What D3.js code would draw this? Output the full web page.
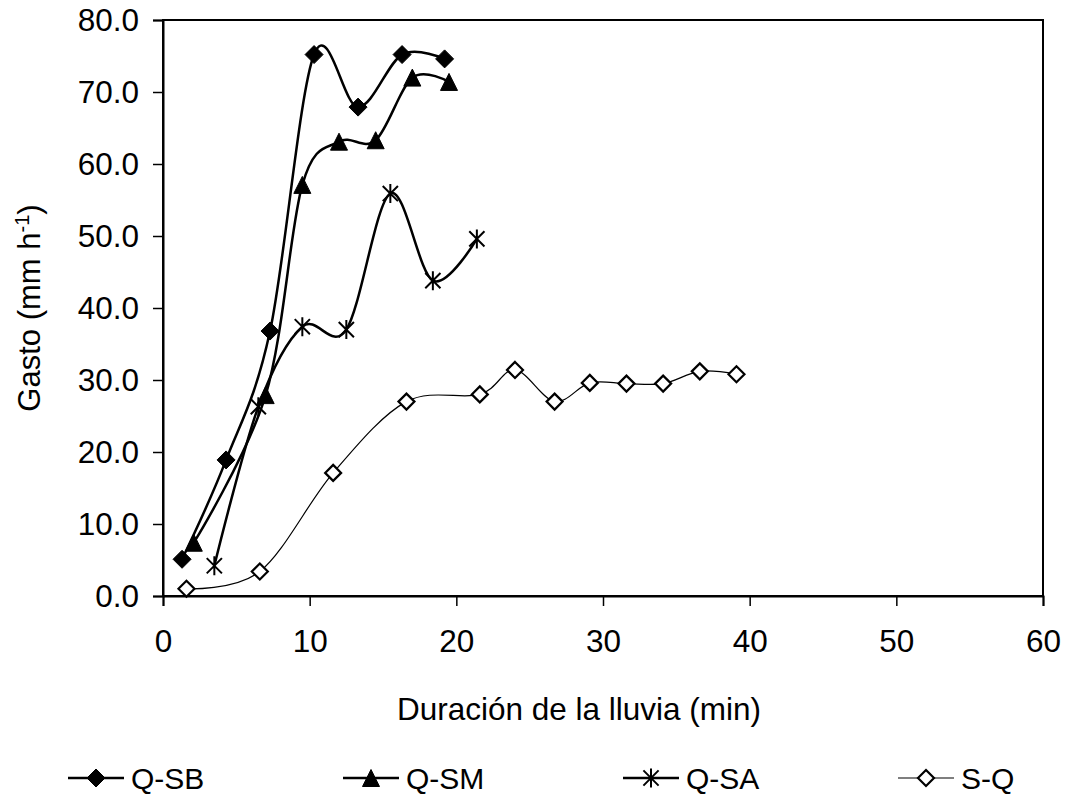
<!DOCTYPE html>
<html>
<head>
<meta charset="utf-8">
<script src="https://cdn.jsdelivr.net/npm/d3@7"></script>
<style>
  body { margin: 0; background: #fff; }
  text { font-family: "Liberation Sans", Arial, sans-serif; fill: #000; }
</style>
</head>
<body>
<div id="chart"></div>
<script>
// series
const sbX = [1.3, 4.3, 7.3, 10.3, 13.3, 16.3, 19.2];
const sbY = [5.1, 18.9, 36.8, 75.2, 67.9, 75.2, 74.6];
const smX = [2.1, 7.0, 9.5, 12.0, 14.5, 17.0, 19.5];
const smY = [7.4, 27.9, 57.1, 63.1, 63.3, 72.0, 71.4];
const saX = [3.5, 6.5, 9.5, 12.5, 15.5, 18.4, 21.4];
const saY = [4.2, 26.3, 37.4, 37.0, 55.9, 43.8, 49.6];
const sqX = [1.6, 6.6, 11.6, 16.6, 21.6, 24.0, 26.7, 29.1, 31.6, 34.1, 36.6, 39.1];
const sqY = [1.0, 3.4, 17.1, 27.0, 28.0, 31.4, 27.0, 29.6, 29.5, 29.5, 31.2, 30.8];

const seriesNames = ["Q-SB", "Q-SM", "Q-SA", "S-Q"];
const xTicks = [0, 10, 20, 30, 40, 50, 60];
const yTicks = [0, 10, 20, 30, 40, 50, 60, 70, 80];

const W = 1066, H = 795;
const margin = {top: 20, right: 23, bottom: 199, left: 163};
const width = W - margin.left - margin.right;
const height = H - margin.top - margin.bottom;

const svg = d3.select("#chart").append("svg")
    .attr("width", W)
    .attr("height", H);

const g = svg.append("g")
    .attr("transform", "translate(" + margin.left + "," + margin.top + ")");

const x = d3.scaleLinear().domain([0, 60]).range([0, width]);
const y = d3.scaleLinear().domain([0, 80]).range([height, 0]);

// plot frame
g.append("rect")
    .attr("x", 0).attr("y", 0)
    .attr("width", width).attr("height", height)
    .attr("fill", "none")
    .attr("stroke", "#000")
    .attr("stroke-width", 2);

// axes
const xAxis = g.append("g")
    .attr("transform", "translate(0," + height + ")")
    .call(d3.axisBottom(x).tickValues(xTicks).tickSize(10).tickPadding(24));
const yAxis = g.append("g")
    .call(d3.axisLeft(y).tickValues(yTicks).tickFormat(d3.format(".1f")).tickSize(10).tickPadding(14));

[xAxis, yAxis].forEach(ax => {
    ax.select(".domain").attr("stroke-width", 2);
    ax.selectAll(".tick line").attr("stroke-width", 1.5);
    ax.selectAll("text")
        .style("font-family", "'Liberation Sans', Arial, sans-serif")
        .style("font-size", "31.5px")
        .attr("fill", "#000");
});

// axis titles
svg.append("text")
    .attr("x", 579)
    .attr("y", 720)
    .attr("text-anchor", "middle")
    .style("font-size", "31.5px")
    .text("Duración de la lluvia (min)");

const yt = svg.append("text")
    .attr("transform", "translate(40," + (margin.top + height / 2) + ") rotate(-90)")
    .attr("text-anchor", "middle")
    .style("font-size", "31px");
yt.append("tspan").text("Gasto (mm h");
yt.append("tspan").attr("dy", -11).style("font-size", "20px").text("-1");
yt.append("tspan").attr("dy", 11).text(")");

// marker shapes
function diamond(s) { return "M0," + (-s) + "L" + s + ",0L0," + s + "L" + (-s) + ",0Z"; }
function triangle(s) { return "M0," + (-s) + "L" + s + "," + s + "L" + (-s) + "," + s + "Z"; }
function star(s) {
    const d = s * 0.8;
    return "M0," + (-s) + "L0," + s +
        "M" + (-d) + "," + (-d) + "L" + d + "," + d +
        "M" + (-d) + "," + d + "L" + d + "," + (-d);
}

const series = [
    {name: seriesNames[0], xs: sbX, ys: sbY, lw: 2.5, shape: diamond(9), fill: "#000", sw: 1},
    {name: seriesNames[1], xs: smX, ys: smY, lw: 2.5, shape: triangle(8.5), fill: "#000", sw: 1},
    {name: seriesNames[2], xs: saX, ys: saY, lw: 2.5, shape: star(9.5), fill: "none", sw: 2},
    {name: seriesNames[3], xs: sqX, ys: sqY, lw: 1.2, shape: diamond(8), fill: "#fff", sw: 2.2}
];

const line = d3.line()
    .x(d => x(d[0]))
    .y(d => y(d[1]))
    .curve(d3.curveCardinal.tension(0));

series.forEach(s => {
    const pts = s.xs.map((v, i) => [v, s.ys[i]]);
    g.append("path")
        .datum(pts)
        .attr("d", line)
        .attr("fill", "none")
        .attr("stroke", "#000")
        .attr("stroke-width", s.lw);
    g.selectAll(null)
        .data(pts)
        .enter()
        .append("path")
        .attr("transform", d => "translate(" + x(d[0]) + "," + y(d[1]) + ")")
        .attr("d", s.shape)
        .attr("fill", s.fill)
        .attr("stroke", "#000")
        .attr("stroke-width", s.sw);
});

// legend
const legendX = [68, 343, 623, 898];
const legend = svg.append("g").attr("transform", "translate(0,778)");
series.forEach((s, i) => {
    const lg = legend.append("g").attr("transform", "translate(" + legendX[i] + ",0)");
    lg.append("line")
        .attr("x1", 0).attr("x2", 56)
        .attr("stroke", "#000")
        .attr("stroke-width", s.lw);
    lg.append("path")
        .attr("transform", "translate(28,0)")
        .attr("d", s.shape)
        .attr("fill", s.fill)
        .attr("stroke", "#000")
        .attr("stroke-width", s.sw);
    lg.append("text")
        .attr("x", 63)
        .attr("y", 11)
        .style("font-size", "30px")
        .text(s.name);
});
</script>
</body>
</html>
